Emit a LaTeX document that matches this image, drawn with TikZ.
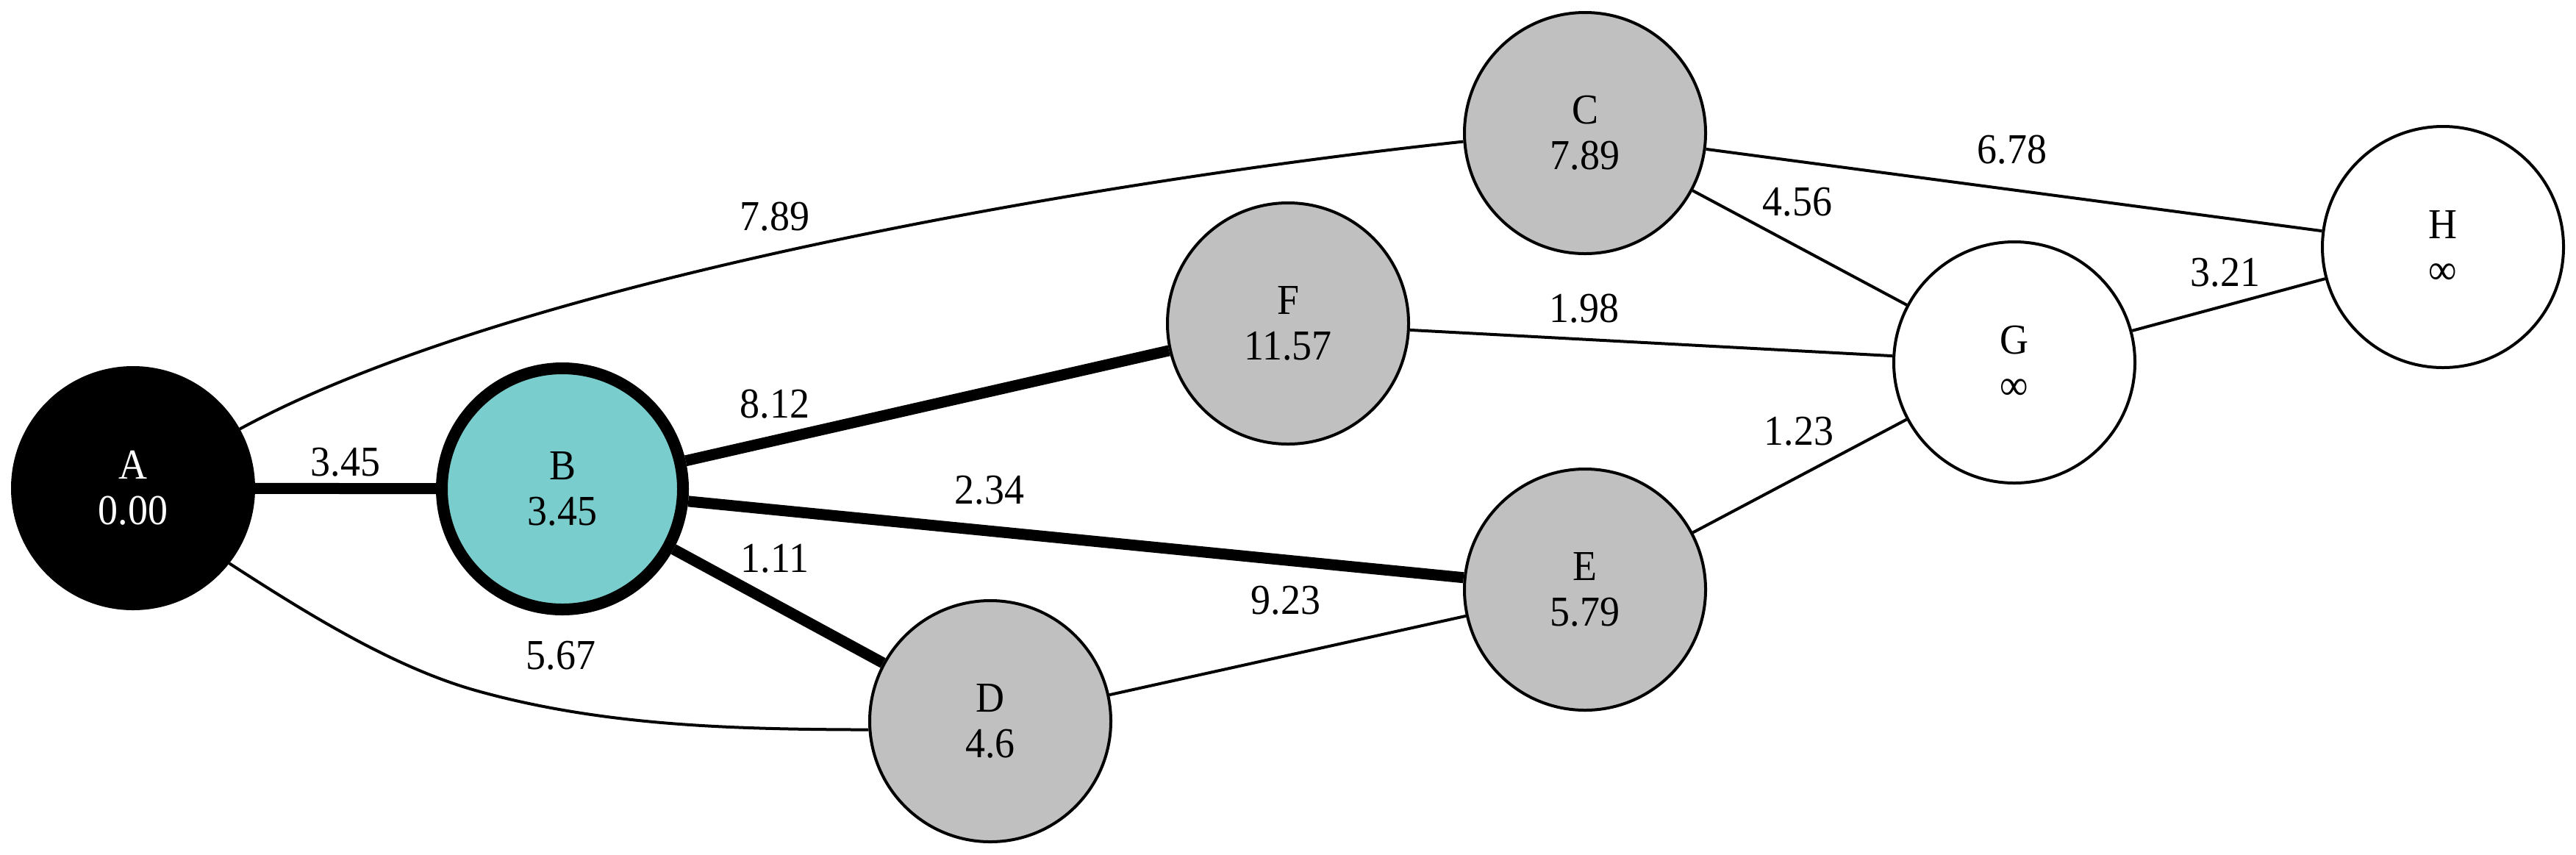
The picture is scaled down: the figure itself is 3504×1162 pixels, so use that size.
\documentclass[tikz,border=0pt]{standalone}
\usepackage{fontspec}
\setmainfont{Liberation Serif}[FakeStretch=0.93]
\usetikzlibrary{backgrounds}
\definecolor{curfill}{HTML}{79CDCD}
\definecolor{visfill}{HTML}{C0C0C0}
\begin{document}
\begin{tikzpicture}[x=0.2pt,y=-0.2pt,
  vtx/.style={circle,draw=black,line width=0.8pt,minimum size=65.6pt,inner sep=0pt,
              align=center,font=\fontsize{11.6}{12.4}\selectfont},
  srcnode/.style={vtx,fill=black,text=white},
  curnode/.style={vtx,fill=curfill,line width=3.2pt},
  visnode/.style={vtx,fill=visfill},
  newnode/.style={vtx,fill=white},
  lightedge/.style={line width=0.8pt},
  heavyedge/.style={line width=3pt},
  wlabel/.style={inner sep=0pt,font=\fontsize{11.6}{12.4}\selectfont}
]
\useasboundingbox (0,0) rectangle (3504,1162);

\node[srcnode] (A) at (181,664) {A\\0.00};
\node[curnode] (B) at (765,665) {B\\3.45};
\node[visnode] (C) at (2156,181) {C\\7.89};
\node[visnode] (F) at (1752,440) {F\\11.57};
\node[visnode] (D) at (1347,981) {D\\4.6};
\node[visnode] (E) at (2156,802) {E\\5.79};
\node[newnode] (G) at (2740,493) {G\\∞};
\node[newnode] (H) at (3323,336) {H\\∞};
\coordinate (admid) at (650,940);

\begin{scope}[on background layer]
\draw[heavyedge] (A) -- (B);
\draw[heavyedge] (B) -- (F);
\draw[heavyedge] (B) -- (E);
\draw[heavyedge] (B) -- (D);
\draw[lightedge] (A.29) .. controls (700,380) and (1500,245) .. (C.184);
\draw[lightedge] (A.-38) .. controls (412,831) and (534,908) .. (admid)
                 .. controls (823,988) and (1001,992) .. (D.184);
\draw[lightedge] (D) -- (E);
\draw[lightedge] (C) -- (G);
\draw[lightedge] (C) -- (H);
\draw[lightedge] (F) -- (G);
\draw[lightedge] (E) -- (G);
\draw[lightedge] (G) -- (H);
\end{scope}

\node[wlabel] (l1) at (470,629) {3.45};
\node[wlabel] (l2) at (1054,295) {7.89};
\node[wlabel] (l3) at (1054,550) {8.12};
\node[wlabel] (l4) at (1346,667) {2.34};
\node[wlabel] (l5) at (1054,760) {1.11};
\node[wlabel] (l6) at (763,892) {5.67};
\node[wlabel] (l7) at (1749,817) {9.23};
\node[wlabel] (l8) at (2155,420) {1.98};
\node[wlabel] (l9) at (2737,204) {6.78};
\node[wlabel] (l10) at (2445,275) {4.56};
\node[wlabel] (l11) at (2447,587) {1.23};
\node[wlabel] (l12) at (3027,371) {3.21};
\end{tikzpicture}
\end{document}
